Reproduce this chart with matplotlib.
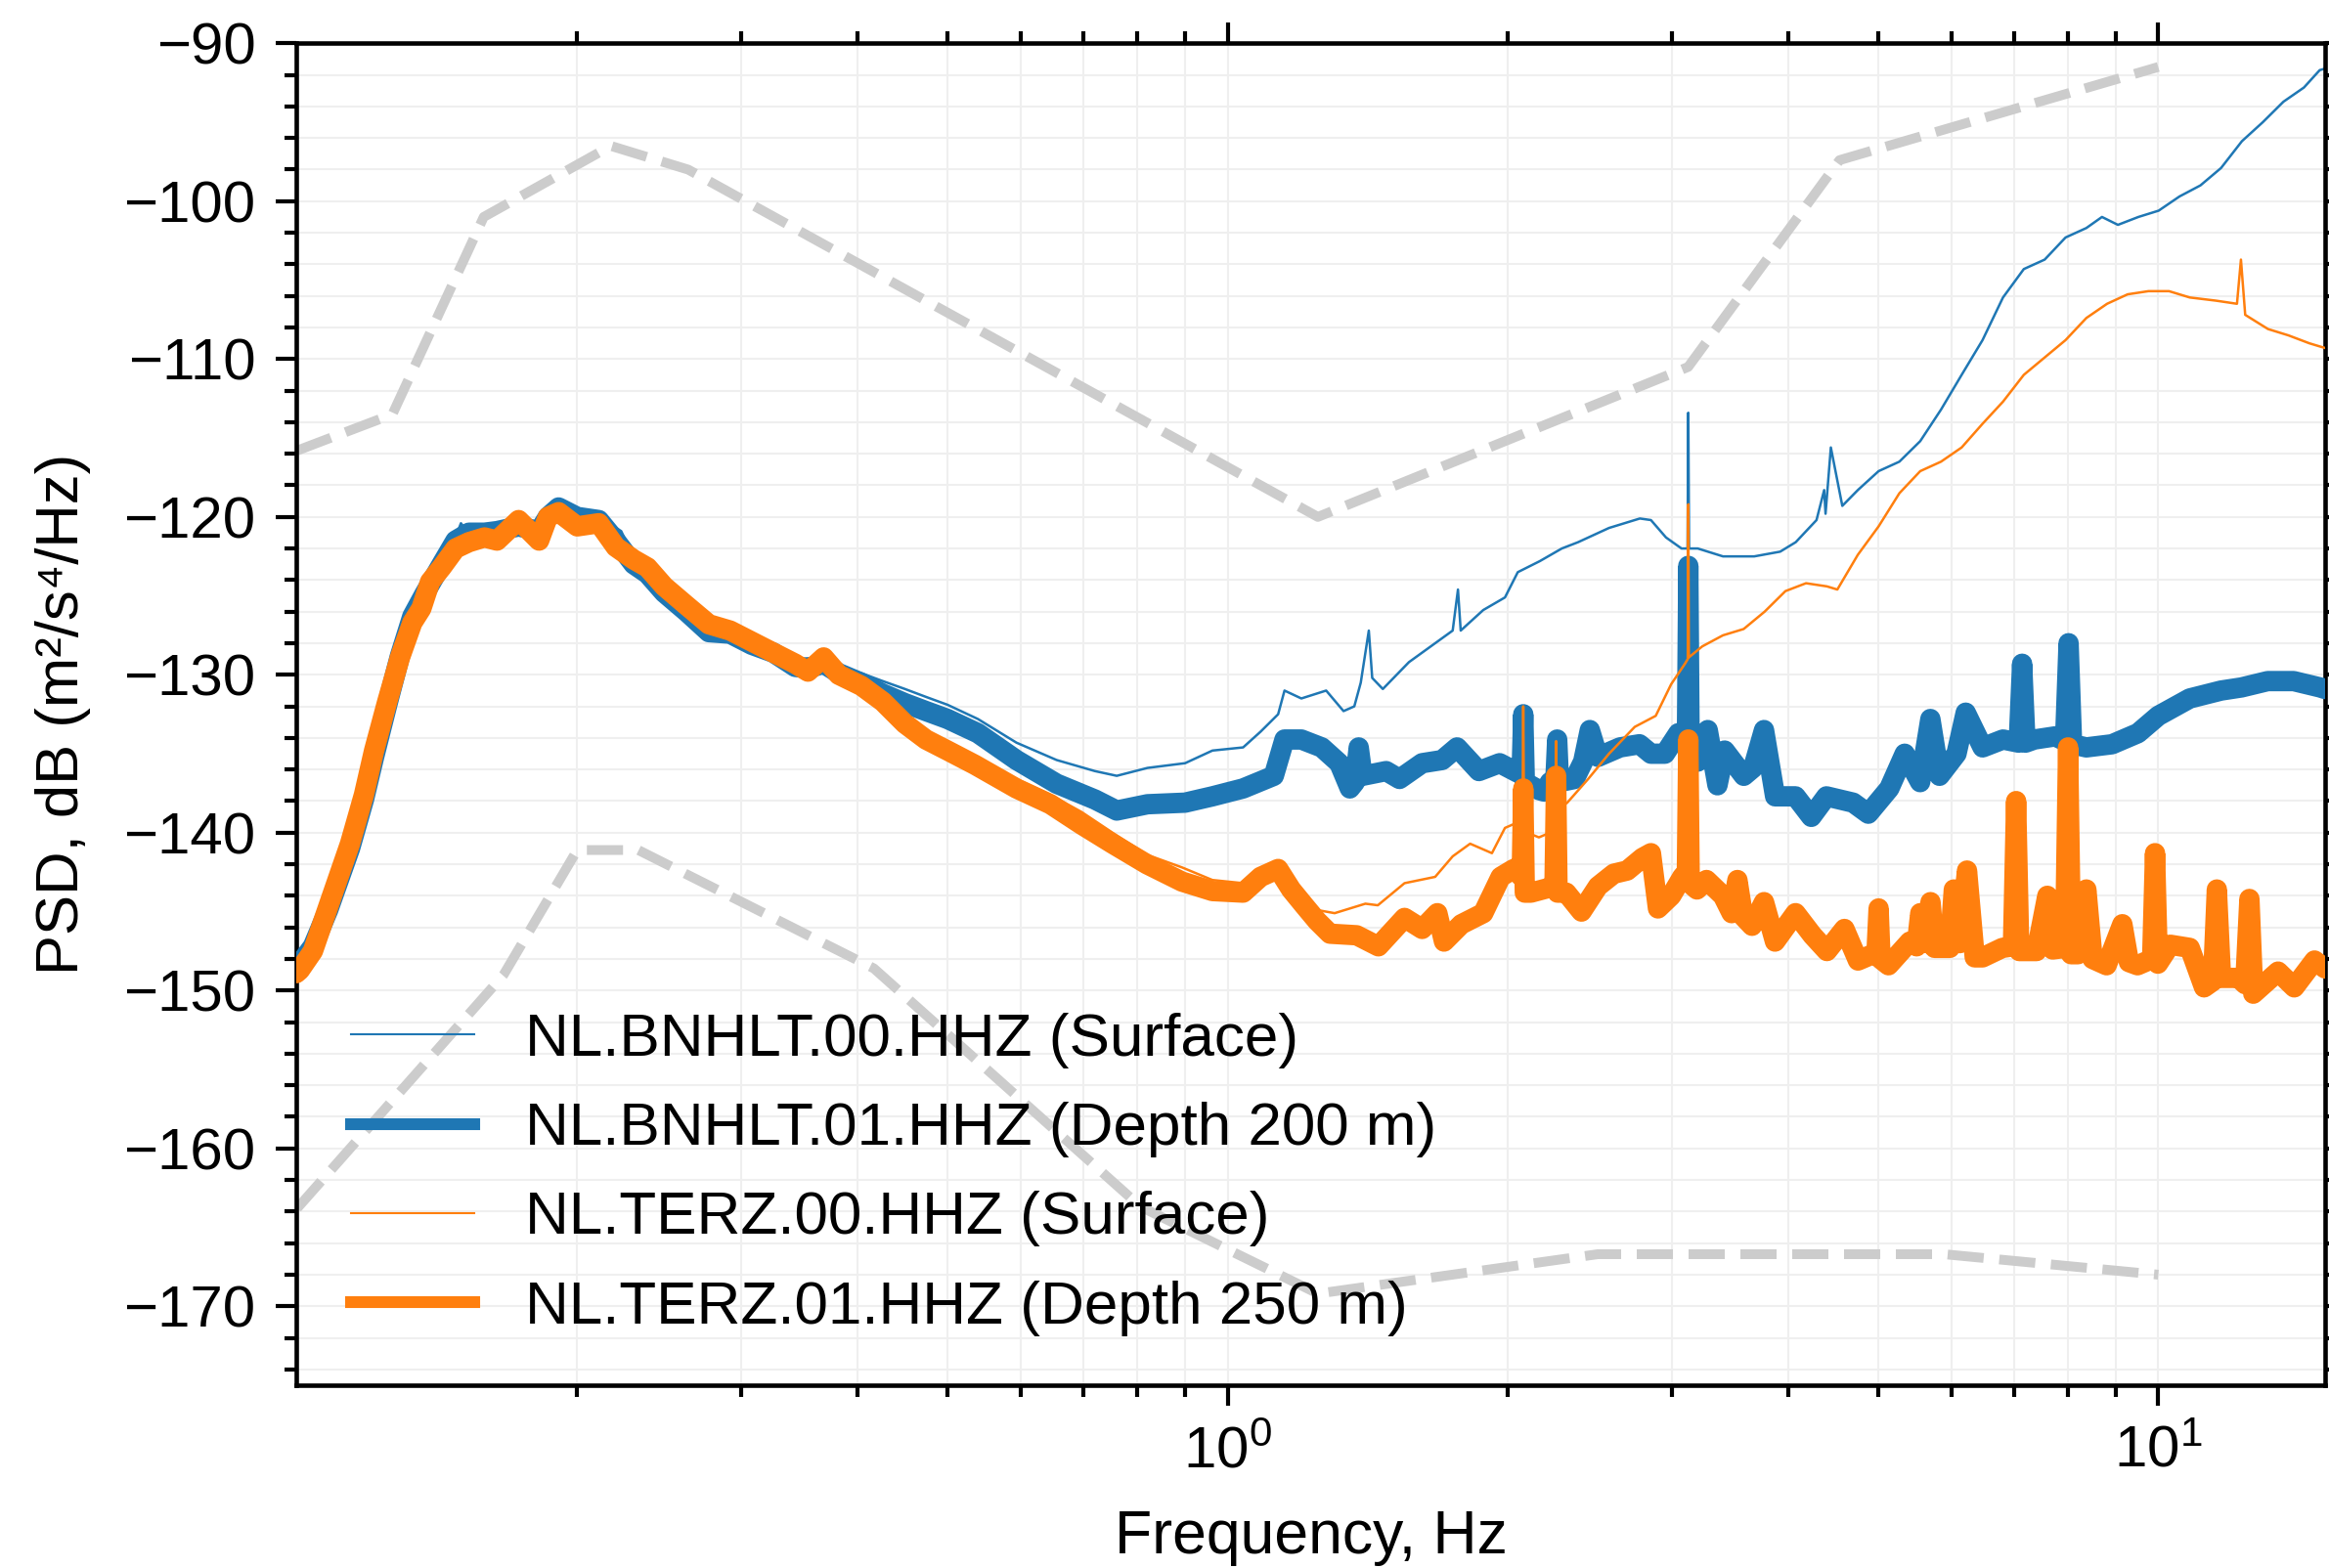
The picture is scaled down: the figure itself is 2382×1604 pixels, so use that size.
import matplotlib
matplotlib.use('Agg')
import matplotlib.pyplot as plt
from matplotlib.lines import Line2D
from matplotlib.ticker import FixedLocator, MultipleLocator, NullFormatter

plt.rcParams['font.family'] = ['Liberation Sans', 'DejaVu Sans']
plt.rcParams['mathtext.fontset'] = 'custom'
plt.rcParams['mathtext.rm'] = 'Liberation Sans'
plt.rcParams['mathtext.it'] = 'Liberation Sans:italic'
plt.rcParams['mathtext.bf'] = 'Liberation Sans:bold'

# ---------------- data (frequency Hz, PSD dB) ----------------
NHNM_FREQ = [0.1, 0.1266, 0.1587, 0.2174, 0.2632, 1.25, 3.125, 4.545, 10.0]
NHNM_DB = [-115.8, -113.5, -101.0, -96.5, -98.0, -120.0, -110.5, -97.4, -91.5]
NLNM_FREQ = [0.1, 0.1667, 0.2, 0.2326, 0.4167, 0.8065, 1.25, 2.5, 5.882, 10.0]
NLNM_DB = [-163.8, -149.0, -141.1, -141.1, -148.6, -163.7, -169.2, -166.7, -166.7, -168.0]

BNHLT00 = [
    (0.0998, -147.8), (0.1007, -147.5), (0.104, -146.4), (0.108, -143.5), (0.111, -142.3),
    (0.114, -140.5), (0.118, -137.3), (0.121, -134.7), (0.125, -131.5), (0.129, -128.5),
    (0.133, -125.9), (0.137, -124.4), (0.141, -123.4), (0.146, -122.2), (0.150, -120.4),
    (0.153, -121.1), (0.159, -120.9), (0.164, -120.7), (0.173, -120.5), (0.182, -120.7),
    (0.191, -119.3), (0.200, -119.8), (0.211, -120.0), (0.223, -120.9), (0.230, -122.6),
    (0.238, -123.4), (0.248, -124.6), (0.262, -125.8), (0.277, -127.0), (0.292, -127.3),
    (0.308, -127.9), (0.325, -128.4), (0.343, -129.0), (0.368, -128.9), (0.382, -129.5),
    (0.404, -129.9), (0.426, -130.4), (0.450, -130.9), (0.474, -131.4), (0.500, -131.9),
    (0.539, -132.8), (0.593, -134.3), (0.655, -135.4), (0.720, -136.1), (0.760, -136.4),
    (0.820, -135.9), (0.900, -135.6), (0.963, -134.8), (1.039, -134.6), (1.085, -133.6),
    (1.133, -132.5), (1.151, -131.0), (1.200, -131.5), (1.276, -131.0), (1.332, -132.3),
    (1.368, -132.0), (1.390, -130.5), (1.418, -127.2), (1.430, -130.2), (1.468, -130.9),
    (1.566, -129.2), (1.653, -128.2), (1.745, -127.2), (1.768, -124.6), (1.780, -127.2),
    (1.882, -125.9), (1.986, -125.1), (2.050, -123.5), (2.165, -122.8), (2.286, -122.0),
    (2.380, -121.6), (2.569, -120.7), (2.773, -120.1), (2.850, -120.2), (2.958, -121.3),
    (3.074, -122.0), (3.120, -122.0), (3.126, -113.4), (3.132, -122.0), (3.200, -122.0),
    (3.406, -122.5), (3.680, -122.5), (3.924, -122.2), (4.078, -121.6), (4.293, -120.2),
    (4.375, -118.3), (4.390, -119.8), (4.448, -115.6), (4.576, -119.3), (4.755, -118.3),
    (5.006, -117.1), (5.270, -116.5), (5.549, -115.2), (5.842, -113.2), (6.148, -111.0),
    (6.474, -108.8), (6.810, -106.1), (7.170, -104.3), (7.550, -103.7), (7.950, -102.3),
    (8.370, -101.7), (8.700, -101.0), (9.050, -101.5), (9.520, -101.0), (10.01, -100.6),
    (10.54, -99.7), (11.10, -99.0), (11.68, -97.9), (12.30, -96.2), (12.95, -95.0),
    (13.63, -93.7), (14.34, -92.8), (14.91, -91.7), (15.11, -91.6)]

BNHLT01 = [
    (0.0998, -148.6), (0.1007, -148.3), (0.104, -147.2), (0.108, -144.9), (0.114, -141.0),
    (0.118, -137.9), (0.121, -135.2), (0.125, -131.9), (0.129, -128.8), (0.133, -126.3),
    (0.137, -124.9), (0.143, -123.0), (0.148, -121.5), (0.153, -121.0), (0.159, -121.0),
    (0.164, -120.9), (0.173, -120.6), (0.182, -120.9), (0.186, -120.0), (0.191, -119.4),
    (0.200, -120.0), (0.211, -120.2), (0.220, -121.5), (0.230, -123.0), (0.238, -123.6),
    (0.248, -124.8), (0.262, -126.0), (0.277, -127.3), (0.292, -127.4), (0.308, -128.1),
    (0.325, -128.6), (0.343, -129.5), (0.354, -129.6), (0.368, -129.3), (0.382, -129.9),
    (0.404, -130.5), (0.426, -131.2), (0.450, -131.8), (0.474, -132.3), (0.500, -132.8),
    (0.539, -133.7), (0.593, -135.4), (0.655, -136.9), (0.720, -137.9), (0.760, -138.6),
    (0.820, -138.2), (0.900, -138.1), (0.963, -137.7), (1.039, -137.2), (1.121, -136.4),
    (1.151, -134.1), (1.200, -134.1), (1.262, -134.6), (1.318, -135.6), (1.353, -137.2),
    (1.370, -136.8), (1.383, -134.6), (1.396, -136.4), (1.480, -136.1), (1.530, -136.6),
    (1.618, -135.6), (1.700, -135.4), (1.764, -134.6), (1.862, -136.1), (1.960, -135.6),
    (2.050, -136.2), (2.070, -136.0), (2.078, -132.5), (2.086, -136.8), (2.160, -137.3),
    (2.189, -137.4), (2.220, -136.8), (2.250, -136.6), (2.260, -134.1), (2.270, -136.8),
    (2.360, -136.6), (2.410, -135.5), (2.450, -133.5), (2.500, -135.2), (2.640, -134.6),
    (2.770, -134.4), (2.850, -135.0), (2.950, -135.0), (3.050, -133.7), (3.115, -134.5),
    (3.126, -123.1), (3.137, -135.2), (3.200, -135.5), (3.280, -133.5), (3.360, -137.0),
    (3.420, -134.8), (3.586, -136.4), (3.670, -135.9), (3.770, -133.5), (3.875, -137.7),
    (4.076, -137.7), (4.238, -139.0), (4.400, -137.7), (4.700, -138.1), (4.880, -138.8),
    (5.140, -137.2), (5.340, -135.0), (5.548, -136.8), (5.690, -132.8), (5.820, -136.4),
    (6.070, -135.0), (6.210, -132.4), (6.475, -134.6), (6.810, -134.1), (7.080, -134.3),
    (7.140, -129.3), (7.200, -134.3), (7.360, -134.1), (7.750, -133.9), (7.940, -134.2),
    (8.010, -128.0), (8.080, -134.4), (8.370, -134.6), (8.920, -134.4), (9.510, -133.7),
    (10.00, -132.6), (10.81, -131.5), (11.68, -131.0), (12.29, -130.8), (13.11, -130.4),
    (13.98, -130.4), (14.92, -130.8), (15.11, -130.9)]

TERZ00 = [
    (0.0998, -148.6), (0.1007, -148.4), (0.104, -147.2), (0.108, -144.4), (0.114, -140.4),
    (0.118, -137.3), (0.121, -134.5), (0.125, -131.4), (0.129, -128.6), (0.133, -126.4),
    (0.137, -125.4), (0.139, -123.9), (0.143, -123.0), (0.148, -121.8), (0.153, -121.4),
    (0.159, -121.1), (0.164, -121.3), (0.173, -120.0), (0.182, -121.3), (0.186, -119.8),
    (0.191, -119.5), (0.200, -120.4), (0.211, -120.2), (0.220, -121.7), (0.230, -122.5),
    (0.238, -123.0), (0.248, -124.2), (0.262, -125.4), (0.277, -126.6), (0.292, -127.0),
    (0.308, -127.7), (0.325, -128.4), (0.343, -129.1), (0.354, -129.6), (0.368, -128.7),
    (0.382, -129.8), (0.404, -130.5), (0.426, -131.5), (0.450, -132.9), (0.474, -133.9),
    (0.500, -134.6), (0.535, -135.3), (0.593, -136.6), (0.645, -137.6), (0.697, -138.7),
    (0.752, -140.0), (0.819, -141.4), (0.893, -142.2), (0.963, -143.0), (1.039, -143.2),
    (1.085, -142.4), (1.133, -142.0), (1.170, -143.2), (1.208, -144.2), (1.248, -144.9),
    (1.303, -145.1), (1.406, -144.5), (1.450, -144.6), (1.549, -143.2), (1.671, -142.8),
    (1.745, -141.5), (1.822, -140.7), (1.923, -141.3), (1.986, -139.7), (2.040, -139.4),
    (2.074, -139.6), (2.078, -132.0), (2.082, -139.8), (2.100, -140.0), (2.160, -140.3),
    (2.200, -140.1), (2.250, -139.6), (2.254, -134.2), (2.258, -138.6), (2.317, -138.1),
    (2.440, -136.6), (2.569, -135.0), (2.738, -133.3), (2.884, -132.6), (2.996, -130.6),
    (3.100, -129.3), (3.122, -129.0), (3.126, -119.2), (3.130, -128.9), (3.236, -128.2),
    (3.406, -127.5), (3.585, -127.1), (3.776, -126.0), (3.975, -124.7), (4.183, -124.2),
    (4.405, -124.4), (4.520, -124.6), (4.755, -122.4), (5.006, -120.6), (5.270, -118.5),
    (5.549, -117.1), (5.842, -116.5), (6.148, -115.6), (6.474, -114.1), (6.810, -112.7),
    (7.170, -111.0), (7.550, -109.9), (7.950, -108.8), (8.370, -107.4), (8.810, -106.5),
    (9.270, -105.9), (9.760, -105.7), (10.27, -105.7), (10.81, -106.1), (11.53, -106.3),
    (12.15, -106.5), (12.27, -103.7), (12.40, -107.2), (13.12, -108.1), (13.80, -108.5),
    (14.53, -109.0), (14.91, -109.2), (15.11, -109.3)]

TERZ01 = [
    (0.0998, -148.9), (0.1007, -148.7), (0.104, -147.5), (0.108, -144.7), (0.114, -140.7),
    (0.118, -137.6), (0.121, -134.8), (0.125, -131.7), (0.129, -128.9), (0.133, -126.7),
    (0.136, -125.8), (0.139, -124.1), (0.143, -123.2), (0.148, -122.0), (0.153, -121.6),
    (0.159, -121.3), (0.164, -121.5), (0.173, -120.2), (0.182, -121.5), (0.186, -120.0),
    (0.191, -119.7), (0.200, -120.6), (0.211, -120.4), (0.220, -121.9), (0.230, -122.7),
    (0.238, -123.2), (0.248, -124.4), (0.262, -125.6), (0.277, -126.8), (0.292, -127.2),
    (0.308, -127.9), (0.325, -128.6), (0.343, -129.3), (0.354, -129.8), (0.368, -128.9),
    (0.382, -130.0), (0.404, -130.7), (0.426, -131.7), (0.450, -133.1), (0.474, -134.1),
    (0.500, -134.8), (0.535, -135.7), (0.593, -137.2), (0.645, -138.2), (0.697, -139.5),
    (0.752, -140.7), (0.819, -142.0), (0.893, -143.1), (0.963, -143.7), (1.039, -143.8),
    (1.085, -142.8), (1.133, -142.3), (1.170, -143.6), (1.208, -144.6), (1.248, -145.6),
    (1.288, -146.4), (1.376, -146.5), (1.452, -147.2), (1.549, -145.4), (1.618, -146.1),
    (1.680, -145.1), (1.708, -146.9), (1.783, -145.8), (1.882, -145.1), (1.965, -142.8),
    (2.030, -142.3), (2.070, -142.8), (2.078, -137.2), (2.086, -143.8), (2.118, -143.8),
    (2.213, -143.5), (2.245, -143.3), (2.254, -136.4), (2.262, -143.8), (2.311, -143.8),
    (2.400, -145.0), (2.500, -143.4), (2.600, -142.6), (2.687, -142.4), (2.790, -141.6),
    (2.850, -141.3), (2.900, -144.8), (2.996, -144.0), (3.080, -142.8), (3.115, -142.5),
    (3.126, -134.1), (3.137, -143.2), (3.194, -143.6), (3.270, -143.0), (3.406, -144.0),
    (3.480, -145.1), (3.530, -143.0), (3.580, -145.3), (3.660, -145.9), (3.770, -144.4),
    (3.874, -146.9), (4.076, -145.1), (4.250, -146.5), (4.405, -147.5), (4.600, -146.1),
    (4.757, -148.1), (4.980, -147.6), (5.006, -144.8), (5.030, -148.0), (5.130, -148.4),
    (5.408, -146.9), (5.500, -147.2), (5.550, -145.1), (5.630, -147.0), (5.692, -144.4),
    (5.750, -147.3), (5.970, -147.3), (6.030, -143.6), (6.120, -147.0), (6.230, -142.4),
    (6.350, -147.9), (6.475, -147.9), (6.800, -147.3), (6.980, -147.2), (7.035, -138.0),
    (7.090, -147.5), (7.400, -147.5), (7.600, -144.0), (7.700, -147.4), (7.940, -147.3),
    (8.000, -134.6), (8.060, -147.7), (8.200, -147.7), (8.370, -143.6), (8.500, -148.0),
    (8.800, -148.4), (9.150, -145.8), (9.300, -148.2), (9.500, -148.4), (9.850, -148.0),
    (9.920, -141.3), (9.990, -148.3), (10.30, -147.1), (10.81, -147.3), (11.20, -149.8),
    (11.45, -149.4), (11.56, -143.6), (11.68, -149.2), (12.20, -149.2), (12.40, -149.6),
    (12.53, -144.2), (12.65, -150.2), (13.45, -148.8), (14.00, -149.8), (14.72, -148.1),
    (15.11, -148.6)]

LABELS = ["NL.BNHLT.00.HHZ (Surface)", "NL.BNHLT.01.HHZ (Depth 200 m)",
          "NL.TERZ.00.HHZ (Surface)", "NL.TERZ.01.HHZ (Depth 250 m)"]
BLUE = '#1f77b4'
ORANGE = '#ff7f0e'

# ---------------- figure ----------------
fig = plt.figure(figsize=(2382 / 300, 1604 / 300), dpi=300)
ax = fig.add_axes([303 / 2382, 1 - 1417 / 1604, 2075 / 2382, 1372.7 / 1604])

ax.plot(NHNM_FREQ, NHNM_DB, ls='--', color='#cccccc', lw=2.4, zorder=1.5)
ax.plot(NLNM_FREQ, NLNM_DB, ls='--', color='#cccccc', lw=2.4, zorder=1.5)

series = [(BNHLT00, BLUE, 0.6), (BNHLT01, BLUE, 5.0),
          (TERZ00, ORANGE, 0.6), (TERZ01, ORANGE, 5.0)]
for i, (data, col, lw) in enumerate(series):
    f = [p[0] for p in data]
    d = [p[1] for p in data]
    ax.plot(f, d, color=col, lw=lw, zorder=2 + i, solid_joinstyle='round',
            solid_capstyle='round')

ax.set_xscale('log')
ax.set_xlim(0.0998, 15.11)
ax.set_ylim(-175, -90)
ax.xaxis.set_major_locator(FixedLocator([1, 10]))
ax.xaxis.set_minor_locator(FixedLocator([0.2, 0.3, 0.4, 0.5, 0.6, 0.7, 0.8, 0.9,
                                         2, 3, 4, 5, 6, 7, 8, 9]))
ax.xaxis.set_minor_formatter(NullFormatter())
ax.yaxis.set_major_locator(MultipleLocator(10))
ax.yaxis.set_minor_locator(MultipleLocator(2))

ax.tick_params(which='both', direction='out', top=True, right=True, width=1.0,
               labelsize=14.4, color='black')
ax.tick_params(which='major', length=5, pad=5)
ax.tick_params(which='minor', length=2.8)
ax.grid(which='both', color='#efefef', lw=0.5)
ax.set_axisbelow(True)
for s in ax.spines.values():
    s.set_linewidth(1.1)

ax.set_xlabel('Frequency, Hz', fontsize=15, labelpad=7)
ax.set_ylabel('PSD, dB (m²/s⁴/Hz)', fontsize=14.8, labelpad=8)

handles = [Line2D([], [], color=BLUE, lw=0.5), Line2D([], [], color=BLUE, lw=2.9),
           Line2D([], [], color=ORANGE, lw=0.5), Line2D([], [], color=ORANGE, lw=2.9)]
ax.legend(handles, LABELS, loc='lower left', frameon=False, fontsize=14.9,
          handlelength=2.03, handletextpad=0.84, labelspacing=0.55,
          borderaxespad=0.5, bbox_to_anchor=(0.0, -0.004))

fig.savefig('out.png', dpi=300)
